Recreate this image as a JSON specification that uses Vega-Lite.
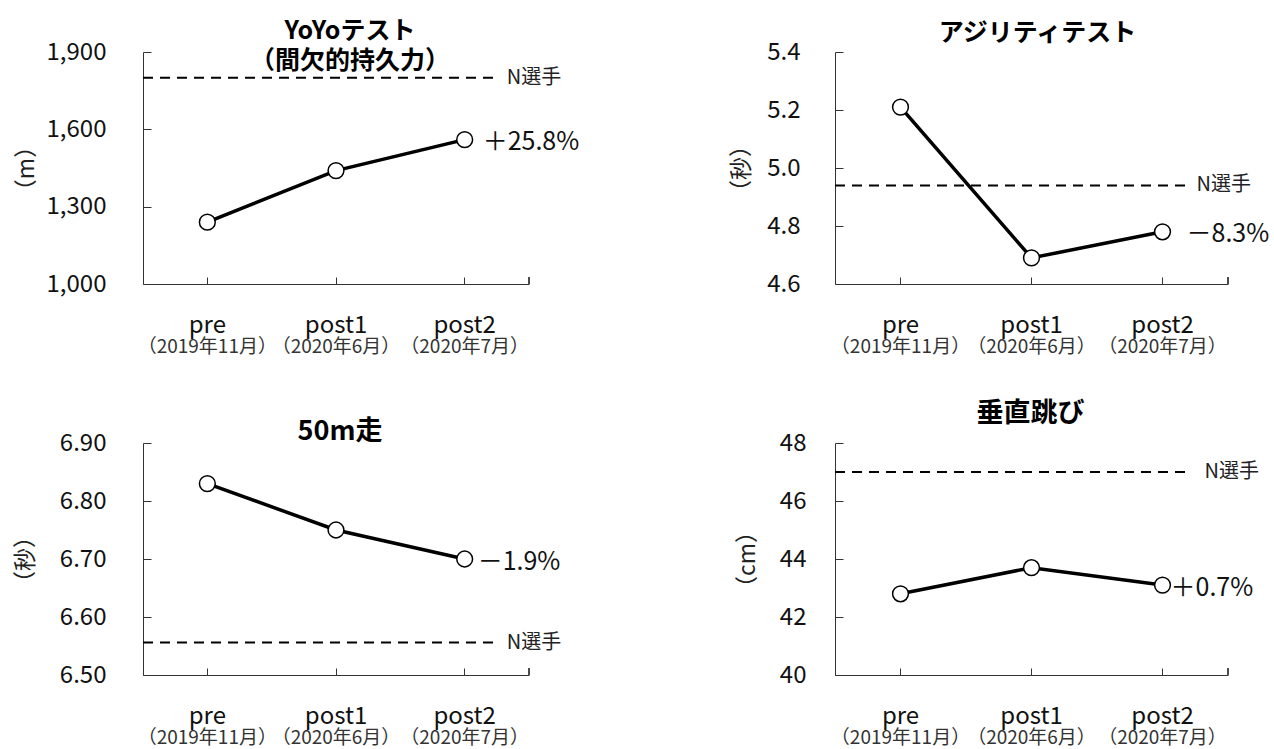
{
  "$schema": "https://vega.github.io/schema/vega-lite/v6.json",
  "background": "white",
  "padding": {"left": 14, "top": 19, "right": 0, "bottom": 0},
  "columns": 2,
  "spacing": {"row": 159, "column": 306},
  "bounds": "flush",
  "datasets": {
    "yoyo": [
      {"phase": "pre", "value": 1240},
      {"phase": "post1", "value": 1440},
      {"phase": "post2", "value": 1560, "change": "＋25.8%"}
    ],
    "yoyo_ref": [{"name": "N選手", "value": 1800}],
    "agility": [
      {"phase": "pre", "value": 5.21},
      {"phase": "post1", "value": 4.69},
      {"phase": "post2", "value": 4.78, "change": "－8.3%"}
    ],
    "agility_ref": [{"name": "N選手", "value": 4.94}],
    "sprint": [
      {"phase": "pre", "value": 6.83},
      {"phase": "post1", "value": 6.75},
      {"phase": "post2", "value": 6.70, "change": "－1.9%"}
    ],
    "sprint_ref": [{"name": "N選手", "value": 6.556}],
    "jump": [
      {"phase": "pre", "value": 42.8},
      {"phase": "post1", "value": 43.7},
      {"phase": "post2", "value": 43.1, "change": "＋0.7%"}
    ],
    "jump_ref": [{"name": "N選手", "value": 47.0}]
  },
  "concat": [
    {
      "width": 386, "height": 232,
      "title": {"text": ["YoYoテスト", "（間欠的持久力）"], "fontSize": 25, "lineHeight": 30, "offset": -34, "dx": 14},
      "data": {"name": "yoyo"},
      "resolve": {"axis": {"x": "independent"}},
      "encoding": {
        "y": {"field": "value", "type": "quantitative",
          "scale": {"domain": [1000, 1900], "nice": false, "zero": false},
          "axis": {"title": "（m）", "values": [1000, 1300, 1600, 1900], "format": ",d", "labelPadding": 45, "tickSize": -8, "titlePadding": 8}}
      },
      "layer": [
        {
          "data": {"name": "yoyo_ref"},
          "mark": {"type": "rule", "strokeDash": [10, 7], "strokeWidth": 2, "color": "#000", "x2Offset": 31},
          "encoding": {
            "x": {"datum": "pre", "bandPosition": 0, "scale": {"domain": ["pre", "post1", "post2"]}, "axis": null},
            "x2": {"datum": "post2"}
          }
        },
        {
          "data": {"name": "yoyo_ref"},
          "mark": {"type": "text", "align": "left", "baseline": "middle", "dx": 42, "fontSize": 20, "color": "#222"},
          "encoding": {
            "x": {"datum": "post2", "scale": {"domain": ["pre", "post1", "post2"]}, "axis": null},
            "text": {"field": "name"}
          }
        },
        {
          "mark": {"type": "rule", "color": "#333", "strokeWidth": 1, "y2Offset": -7},
          "encoding": {
            "x": {"datum": "post2", "bandPosition": 1, "scale": {"domain": ["pre", "post1", "post2"]}, "axis": null},
            "y": {"datum": 1000},
            "y2": {"datum": 1000}
          }
        },
        {
          "mark": {"type": "line", "color": "#000", "strokeWidth": 3.5},
          "encoding": {
            "x": {"field": "phase", "type": "nominal",
              "scale": {"domain": ["pre", "post1", "post2"], "paddingInner": 0, "paddingOuter": 0},
              "axis": {"orient": "bottom", "title": null, "labelAngle": 0, "labelFontSize": 24, "labelBaseline": "alphabetic", "labelPadding": 55, "tickSize": -7}}
          }
        },
        {
          "mark": {"type": "circle", "fill": "white", "stroke": "#000", "strokeWidth": 1.5, "size": 250, "opacity": 1},
          "encoding": {
            "x": {"field": "phase", "type": "nominal",
              "scale": {"domain": ["pre", "post1", "post2"]},
              "axis": {"orient": "bottom", "title": null, "labelAngle": 0, "labelFontSize": 19, "labelColor": "#333", "labelBaseline": "alphabetic", "labelPadding": 68, "ticks": false, "domain": false,
                "labelExpr": "datum.value == 'pre' ? '（2019年11月）' : datum.value == 'post1' ? '（2020年6月）' : '（2020年7月）'"}}
          }
        },
        {
          "transform": [{"filter": "datum.change != null"}],
          "mark": {"type": "text", "align": "left", "baseline": "middle", "dx": 18, "dy": 2, "fontSize": 25, "color": "#111"},
          "encoding": {
            "x": {"field": "phase", "type": "nominal", "scale": {"domain": ["pre", "post1", "post2"]}, "axis": null},
            "text": {"field": "change"}
          }
        }
      ]
    },
    {
      "width": 393, "height": 232,
      "title": {"text": "アジリティテスト", "fontSize": 25, "offset": -6, "dx": 6},
      "data": {"name": "agility"},
      "resolve": {"axis": {"x": "independent"}},
      "encoding": {
        "y": {"field": "value", "type": "quantitative",
          "scale": {"domain": [4.6, 5.4], "nice": false, "zero": false},
          "axis": {"title": "（秒）", "values": [4.6, 4.8, 5.0, 5.2, 5.4], "format": ".1f", "labelPadding": 43, "tickSize": -8, "titlePadding": 13}}
      },
      "layer": [
        {
          "data": {"name": "agility_ref"},
          "mark": {"type": "rule", "strokeDash": [10, 7], "strokeWidth": 2, "color": "#000", "x2Offset": 28},
          "encoding": {
            "x": {"datum": "pre", "bandPosition": 0, "scale": {"domain": ["pre", "post1", "post2"]}, "axis": null},
            "x2": {"datum": "post2"}
          }
        },
        {
          "data": {"name": "agility_ref"},
          "mark": {"type": "text", "align": "left", "baseline": "middle", "dx": 34, "fontSize": 20, "color": "#222"},
          "encoding": {
            "x": {"datum": "post2", "scale": {"domain": ["pre", "post1", "post2"]}, "axis": null},
            "text": {"field": "name"}
          }
        },
        {
          "mark": {"type": "rule", "color": "#333", "strokeWidth": 1, "y2Offset": -7},
          "encoding": {
            "x": {"datum": "post2", "bandPosition": 1, "scale": {"domain": ["pre", "post1", "post2"]}, "axis": null},
            "y": {"datum": 4.6},
            "y2": {"datum": 4.6}
          }
        },
        {
          "mark": {"type": "line", "color": "#000", "strokeWidth": 3.5},
          "encoding": {
            "x": {"field": "phase", "type": "nominal",
              "scale": {"domain": ["pre", "post1", "post2"], "paddingInner": 0, "paddingOuter": 0},
              "axis": {"orient": "bottom", "title": null, "labelAngle": 0, "labelFontSize": 24, "labelBaseline": "alphabetic", "labelPadding": 55, "tickSize": -7}}
          }
        },
        {
          "mark": {"type": "circle", "fill": "white", "stroke": "#000", "strokeWidth": 1.5, "size": 250, "opacity": 1},
          "encoding": {
            "x": {"field": "phase", "type": "nominal",
              "scale": {"domain": ["pre", "post1", "post2"]},
              "axis": {"orient": "bottom", "title": null, "labelAngle": 0, "labelFontSize": 19, "labelColor": "#333", "labelBaseline": "alphabetic", "labelPadding": 68, "ticks": false, "domain": false,
                "labelExpr": "datum.value == 'pre' ? '（2019年11月）' : datum.value == 'post1' ? '（2020年6月）' : '（2020年7月）'"}}
          }
        },
        {
          "transform": [{"filter": "datum.change != null"}],
          "mark": {"type": "text", "align": "left", "baseline": "middle", "dx": 24, "dy": 2, "fontSize": 25, "color": "#111"},
          "encoding": {
            "x": {"field": "phase", "type": "nominal", "scale": {"domain": ["pre", "post1", "post2"]}, "axis": null},
            "text": {"field": "change"}
          }
        }
      ]
    },
    {
      "width": 386, "height": 232,
      "title": {"text": "50m走", "fontSize": 27, "offset": -15, "dx": 4},
      "data": {"name": "sprint"},
      "resolve": {"axis": {"x": "independent"}},
      "encoding": {
        "y": {"field": "value", "type": "quantitative",
          "scale": {"domain": [6.5, 6.9], "nice": false, "zero": false},
          "axis": {"title": "（秒）", "values": [6.5, 6.6, 6.7, 6.8, 6.9], "format": ".2f", "labelPadding": 45, "tickSize": -8, "titlePadding": 22}}
      },
      "layer": [
        {
          "data": {"name": "sprint_ref"},
          "mark": {"type": "rule", "strokeDash": [10, 7], "strokeWidth": 2, "color": "#000", "x2Offset": 31},
          "encoding": {
            "x": {"datum": "pre", "bandPosition": 0, "scale": {"domain": ["pre", "post1", "post2"]}, "axis": null},
            "x2": {"datum": "post2"}
          }
        },
        {
          "data": {"name": "sprint_ref"},
          "mark": {"type": "text", "align": "left", "baseline": "middle", "dx": 42, "fontSize": 20, "color": "#222"},
          "encoding": {
            "x": {"datum": "post2", "scale": {"domain": ["pre", "post1", "post2"]}, "axis": null},
            "text": {"field": "name"}
          }
        },
        {
          "mark": {"type": "rule", "color": "#333", "strokeWidth": 1, "y2Offset": -7},
          "encoding": {
            "x": {"datum": "post2", "bandPosition": 1, "scale": {"domain": ["pre", "post1", "post2"]}, "axis": null},
            "y": {"datum": 6.5},
            "y2": {"datum": 6.5}
          }
        },
        {
          "mark": {"type": "line", "color": "#000", "strokeWidth": 3.5},
          "encoding": {
            "x": {"field": "phase", "type": "nominal",
              "scale": {"domain": ["pre", "post1", "post2"], "paddingInner": 0, "paddingOuter": 0},
              "axis": {"orient": "bottom", "title": null, "labelAngle": 0, "labelFontSize": 24, "labelBaseline": "alphabetic", "labelPadding": 55, "tickSize": -7}}
          }
        },
        {
          "mark": {"type": "circle", "fill": "white", "stroke": "#000", "strokeWidth": 1.5, "size": 250, "opacity": 1},
          "encoding": {
            "x": {"field": "phase", "type": "nominal",
              "scale": {"domain": ["pre", "post1", "post2"]},
              "axis": {"orient": "bottom", "title": null, "labelAngle": 0, "labelFontSize": 19, "labelColor": "#333", "labelBaseline": "alphabetic", "labelPadding": 68, "ticks": false, "domain": false,
                "labelExpr": "datum.value == 'pre' ? '（2019年11月）' : datum.value == 'post1' ? '（2020年6月）' : '（2020年7月）'"}}
          }
        },
        {
          "transform": [{"filter": "datum.change != null"}],
          "mark": {"type": "text", "align": "left", "baseline": "middle", "dx": 13, "dy": 3, "fontSize": 25, "color": "#111"},
          "encoding": {
            "x": {"field": "phase", "type": "nominal", "scale": {"domain": ["pre", "post1", "post2"]}, "axis": null},
            "text": {"field": "change"}
          }
        }
      ]
    },
    {
      "width": 393, "height": 232,
      "title": {"text": "垂直跳び", "fontSize": 27, "offset": 3, "dx": -1},
      "data": {"name": "jump"},
      "resolve": {"axis": {"x": "independent"}},
      "encoding": {
        "y": {"field": "value", "type": "quantitative",
          "scale": {"domain": [40, 48], "nice": false, "zero": false},
          "axis": {"title": "（cm）", "values": [40, 42, 44, 46, 48], "format": "d", "labelPadding": 37, "tickSize": -8, "titlePadding": 20}}
      },
      "layer": [
        {
          "data": {"name": "jump_ref"},
          "mark": {"type": "rule", "strokeDash": [10, 7], "strokeWidth": 2, "color": "#000", "x2Offset": 26},
          "encoding": {
            "x": {"datum": "pre", "bandPosition": 0, "scale": {"domain": ["pre", "post1", "post2"]}, "axis": null},
            "x2": {"datum": "post2"}
          }
        },
        {
          "data": {"name": "jump_ref"},
          "mark": {"type": "text", "align": "left", "baseline": "middle", "dx": 42, "fontSize": 20, "color": "#222"},
          "encoding": {
            "x": {"datum": "post2", "scale": {"domain": ["pre", "post1", "post2"]}, "axis": null},
            "text": {"field": "name"}
          }
        },
        {
          "mark": {"type": "rule", "color": "#333", "strokeWidth": 1, "y2Offset": -7},
          "encoding": {
            "x": {"datum": "post2", "bandPosition": 1, "scale": {"domain": ["pre", "post1", "post2"]}, "axis": null},
            "y": {"datum": 40},
            "y2": {"datum": 40}
          }
        },
        {
          "mark": {"type": "line", "color": "#000", "strokeWidth": 3.5},
          "encoding": {
            "x": {"field": "phase", "type": "nominal",
              "scale": {"domain": ["pre", "post1", "post2"], "paddingInner": 0, "paddingOuter": 0},
              "axis": {"orient": "bottom", "title": null, "labelAngle": 0, "labelFontSize": 24, "labelBaseline": "alphabetic", "labelPadding": 55, "tickSize": -7}}
          }
        },
        {
          "mark": {"type": "circle", "fill": "white", "stroke": "#000", "strokeWidth": 1.5, "size": 250, "opacity": 1},
          "encoding": {
            "x": {"field": "phase", "type": "nominal",
              "scale": {"domain": ["pre", "post1", "post2"]},
              "axis": {"orient": "bottom", "title": null, "labelAngle": 0, "labelFontSize": 19, "labelColor": "#333", "labelBaseline": "alphabetic", "labelPadding": 68, "ticks": false, "domain": false,
                "labelExpr": "datum.value == 'pre' ? '（2019年11月）' : datum.value == 'post1' ? '（2020年6月）' : '（2020年7月）'"}}
          }
        },
        {
          "transform": [{"filter": "datum.change != null"}],
          "mark": {"type": "text", "align": "left", "baseline": "middle", "dx": 8, "dy": 3, "fontSize": 25, "color": "#111"},
          "encoding": {
            "x": {"field": "phase", "type": "nominal", "scale": {"domain": ["pre", "post1", "post2"]}, "axis": null},
            "text": {"field": "change"}
          }
        }
      ]
    }
  ],
  "config": {
    "font": "Noto Sans CJK JP",
    "view": {"stroke": null},
    "axis": {
      "grid": false,
      "domainColor": "#333",
      "domainWidth": 1,
      "tickColor": "#333",
      "labelColor": "#111",
      "labelFontSize": 24,
      "labelFont": "Noto Sans CJK JP",
      "titleFont": "Noto Sans CJK JP",
      "titleFontSize": 23,
      "titleFontWeight": "normal",
      "titleColor": "#222"
    },
    "title": {"font": "Noto Sans CJK JP", "fontWeight": "bold", "color": "#000", "anchor": "middle", "frame": "group"}
  }
}
